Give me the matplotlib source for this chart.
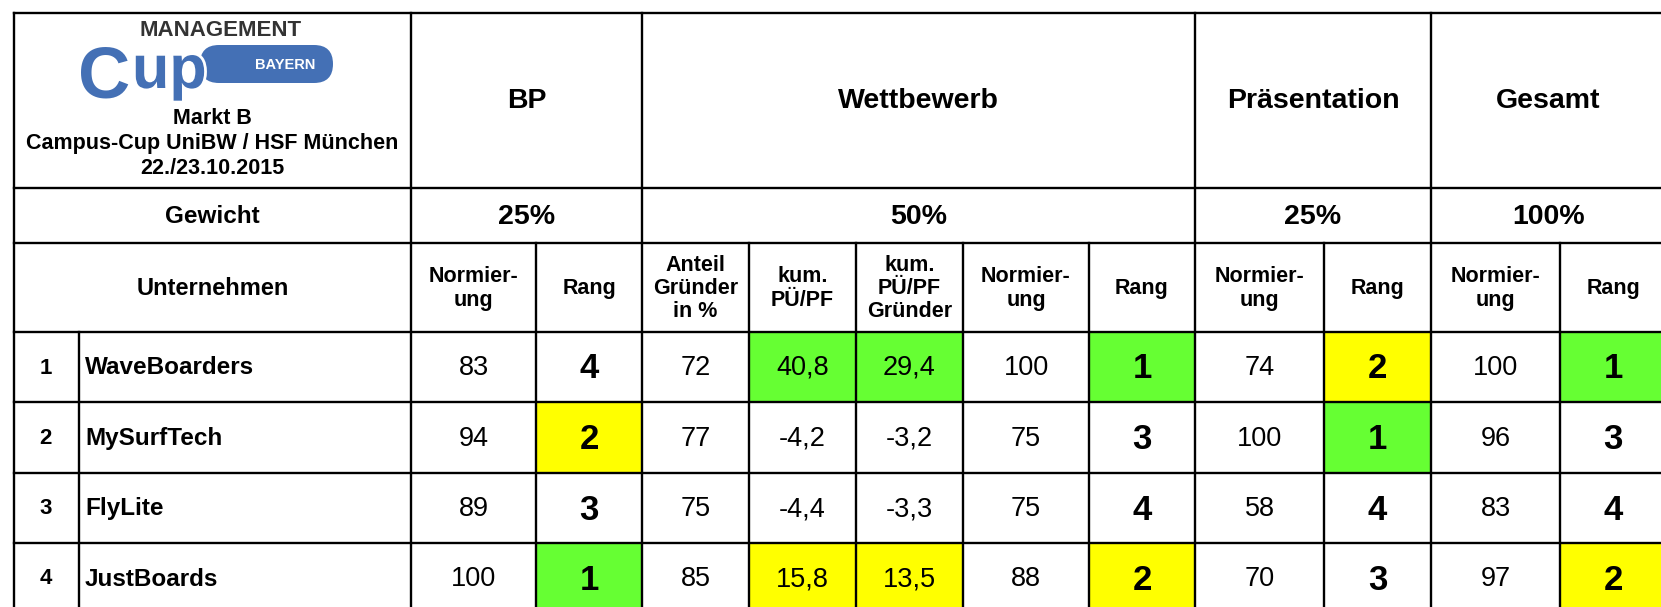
import matplotlib
matplotlib.use("Agg")
from matplotlib import pyplot as plt
from matplotlib.patches import Rectangle, FancyBboxPatch
from matplotlib import patheffects

plt.rcParams['font.family'] = ['Liberation Sans', 'DejaVu Sans']

# Daten
companies = ['WaveBoarders', 'MySurfTech', 'FlyLite', 'JustBoards']
bp_norm = [83, 94, 89, 100]
bp_rang = [4, 2, 3, 1]
anteil = [72, 77, 75, 85]
kum_pu = [40.8, -4.2, -4.4, 15.8]
kum_pu_gr = [29.4, -3.2, -3.3, 13.5]
wb_norm = [100, 75, 75, 88]
wb_rang = [1, 3, 4, 2]
pr_norm = [74, 100, 58, 70]
pr_rang = [2, 1, 4, 3]
ges_norm = [100, 96, 83, 97]
ges_rang = [1, 3, 4, 2]

groups = ['BP', 'Wettbewerb', 'Präsentation', 'Gesamt']
weights = ['25%', '50%', '25%', '100%']
sub_headers = ['Normier-\nung', 'Rang', 'Anteil\nGründer\nin %', 'kum.\nPÜ/PF',
               'kum.\nPÜ/PF\nGründer', 'Normier-\nung', 'Rang',
               'Normier-\nung', 'Rang', 'Normier-\nung', 'Rang']

GREEN = '#66ff33'
YELLOW = '#ffff00'
BLUE = '#4470b5'

# Layout (Pixel)
W, H = 1661, 607
xl, xnum, xdata = 14, 79, 411
col_x = [411, 536, 642, 749, 856, 963, 1089, 1195, 1324, 1431, 1560, 1666]
group_x = [411, 642, 1195, 1431, 1666]
row_y = [13, 188, 243, 332, 402, 473, 543, 613]
lw = 1.7

fig = plt.figure(figsize=(W / 100, H / 100), dpi=100)
ax = fig.add_axes([0, 0, 1, 1])
ax.set_xlim(0, W)
ax.set_ylim(H, 0)
ax.axis('off')


def fmt(v):
    if isinstance(v, float):
        return ('%.1f' % v).replace('.', ',')
    return str(v)


def best_two(vals):
    order = sorted(range(len(vals)), key=lambda i: -vals[i])
    return {order[0]: GREEN, order[1]: YELLOW}


def rank_color(r):
    return {1: GREEN, 2: YELLOW}.get(r)


columns = [
    (bp_norm, 'n'), (bp_rang, 'r'), (anteil, 'n'), (kum_pu, 'k'), (kum_pu_gr, 'k'),
    (wb_norm, 'n'), (wb_rang, 'r'), (pr_norm, 'n'), (pr_rang, 'r'),
    (ges_norm, 'n'), (ges_rang, 'r'),
]

# Zellen füllen und beschriften
for c, (vals, kind) in enumerate(columns):
    x0, x1 = col_x[c], col_x[c + 1]
    hl = best_two(vals) if kind == 'k' else {}
    for i, v in enumerate(vals):
        y0, y1 = row_y[3 + i], row_y[4 + i]
        color = rank_color(v) if kind == 'r' else hl.get(i)
        if color:
            ax.add_patch(Rectangle((x0, y0), x1 - x0, y1 - y0, color=color, lw=0))
        if kind == 'r':
            ax.text((x0 + x1) / 2, (y0 + y1) / 2 + 2, fmt(v), ha='center', va='center',
                    fontsize=25, fontweight='bold')
        else:
            ax.text((x0 + x1) / 2, (y0 + y1) / 2 + 1, fmt(v), ha='center', va='center',
                    fontsize=19.5)

for i, name in enumerate(companies):
    yc = (row_y[3 + i] + row_y[4 + i]) / 2 + 1
    ax.text((xl + xnum) / 2 - 1, yc, str(i + 1), ha='center', va='center',
            fontsize=16, fontweight='bold')
    ax.text(xnum + 6, yc, name, ha='left', va='center', fontsize=17.5, fontweight='bold')

# Kopfzeilen
for g in range(4):
    xc = (group_x[g] + group_x[g + 1]) / 2
    ax.text(xc, (row_y[0] + row_y[1]) / 2 + 1, groups[g], ha='center', va='center',
            fontsize=20.5, fontweight='bold')
    ax.text(xc, (row_y[1] + row_y[2]) / 2 + 1, weights[g], ha='center', va='center',
            fontsize=20.5, fontweight='bold')

for c, label in enumerate(sub_headers):
    ax.text((col_x[c] + col_x[c + 1]) / 2, (row_y[2] + row_y[3]) / 2 + 1, label,
            ha='center', va='center', fontsize=15.5, fontweight='bold', linespacing=1.15)

ax.text((xl + xdata) / 2, (row_y[1] + row_y[2]) / 2 + 1, 'Gewicht', ha='center',
        va='center', fontsize=17.5, fontweight='bold')
ax.text((xl + xdata) / 2, (row_y[2] + row_y[3]) / 2 + 1, 'Unternehmen', ha='center',
        va='center', fontsize=17, fontweight='bold')

ax.text(212, 119, 'Markt B', ha='center', va='center', fontsize=15.5, fontweight='bold')
ax.text(212, 144, 'Campus-Cup UniBW / HSF München', ha='center', va='center',
        fontsize=15.5, fontweight='bold')
ax.text(212, 168, '22./23.10.2015', ha='center', va='center', fontsize=15.5,
        fontweight='bold')

# Logo
ax.add_patch(FancyBboxPatch((200, 45), 133, 38, boxstyle='round,pad=0,rounding_size=19',
                            color=BLUE, lw=0))
white_edge = [patheffects.withStroke(linewidth=4, foreground='white')]
ax.text(78, 97, 'C', ha='left', va='baseline', fontsize=52, fontweight='bold', color=BLUE)
ax.text(132, 88, 'up', ha='left', va='baseline', fontsize=44, fontweight='bold',
        color=BLUE, path_effects=white_edge)
ax.text(285, 65, 'BAYERN', ha='center', va='center', fontsize=10.5, fontweight='bold',
        color='white')
ax.text(221, 31, 'MANAGEMENT', ha='center', va='center', fontsize=16, fontweight='bold',
        color='#333333')

# Gitterlinien
kw = dict(color='black', lw=lw, solid_capstyle='projecting')
for y in row_y[:-1]:
    ax.plot([xl, W], [y, y], **kw)
ax.plot([xl, xl], [row_y[0], H], **kw)
ax.plot([xnum, xnum], [row_y[3], H], **kw)
for x in group_x[:-1]:
    ax.plot([x, x], [row_y[0], H], **kw)
for x in col_x[:-1]:
    if x not in group_x:
        ax.plot([x, x], [row_y[2], H], **kw)

fig.savefig('out.png', dpi=100)
